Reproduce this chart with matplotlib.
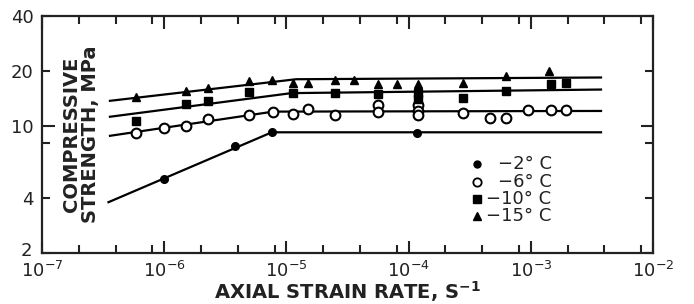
import matplotlib.pyplot as plt
from matplotlib.ticker import FixedLocator, FixedFormatter, LogFormatterMathtext, NullFormatter
from matplotlib.transforms import ScaledTranslation

# -2 C (filled circles)
rate_m2 = [1.0e-6, 3.8e-6, 7.6e-6, 1.17e-4]
val_m2 = [5.1, 7.7, 9.2, 9.1]

# -6 C (open circles)
rate_m6 = [5.9e-7, 1.0e-6, 1.5e-6, 2.3e-6, 4.9e-6, 7.8e-6, 1.13e-5, 1.5e-5, 2.5e-5,
           5.6e-5, 5.6e-5, 1.19e-4, 1.19e-4, 1.19e-4, 2.8e-4, 4.6e-4, 6.3e-4,
           9.5e-4, 1.46e-3, 1.94e-3]
val_m6 = [9.1, 9.7, 10.0, 10.9, 11.5, 11.95, 11.6, 12.3, 11.4,
          13.0, 11.9, 13.0, 12.1, 11.4, 11.75, 11.0, 11.0,
          12.2, 12.2, 12.2]

# -10 C (filled squares)
rate_m10 = [5.9e-7, 1.5e-6, 2.3e-6, 4.9e-6, 1.13e-5, 2.5e-5, 5.6e-5, 1.19e-4, 1.19e-4,
            2.8e-4, 6.3e-4, 1.46e-3, 1.94e-3]
val_m10 = [10.6, 13.2, 13.7, 15.3, 15.2, 15.2, 14.9, 15.1, 14.1,
           14.2, 15.6, 16.9, 17.1]

# -15 C (filled triangles)
rate_m15 = [5.9e-7, 1.5e-6, 2.3e-6, 4.9e-6, 7.6e-6, 1.13e-5, 1.5e-5, 2.5e-5, 3.6e-5,
            5.6e-5, 8.0e-5, 1.19e-4, 2.8e-4, 6.3e-4, 1.4e-3]
val_m15 = [14.4, 15.5, 16.1, 17.6, 17.9, 17.1, 17.2, 17.9, 17.9,
           16.9, 16.9, 16.9, 17.2, 18.8, 20.0]

# fitted lines
fit_rate_m2 = [3.5e-7, 7.6e-6, 3.75e-3]
fit_val_m2 = [3.8, 9.2, 9.2]
fit_rate_m6 = [3.6e-7, 7.8e-6, 3.75e-3]
fit_val_m6 = [8.8, 11.95, 12.05]
fit_rate_m10 = [3.6e-7, 1.1e-5, 3.75e-3]
fit_val_m10 = [11.2, 15.1, 15.8]
fit_rate_m15 = [3.6e-7, 1.2e-5, 3.75e-3]
fit_val_m15 = [13.7, 18.0, 18.4]

legend_labels = ["\u22122\u00b0 C", "\u22126\u00b0 C", "\u221210\u00b0 C", "\u221215\u00b0 C"]

fig = plt.figure(figsize=(6.94, 3.04), dpi=100)
ax = fig.add_axes([0.0605, 0.168, 0.8805, 0.779])

lw = 1.6
for r, v in [(fit_rate_m2, fit_val_m2), (fit_rate_m6, fit_val_m6),
             (fit_rate_m10, fit_val_m10), (fit_rate_m15, fit_val_m15)]:
    ax.plot(r, v, color="black", linewidth=lw, zorder=2)

ax.plot(rate_m2, val_m2, "o", color="black", markersize=5.5, zorder=3)
ax.plot(rate_m6, val_m6, "o", markerfacecolor="white", markeredgecolor="black",
        markeredgewidth=1.5, markersize=7, zorder=3)
ax.plot(rate_m10, val_m10, "s", color="black", markersize=6, zorder=3)
ax.plot(rate_m15, val_m15, "^", color="black", markersize=6, zorder=3)

ax.set_xscale("log")
ax.set_yscale("log")
ax.set_xlim(1e-7, 1e-2)
ax.set_ylim(2, 40)

# x ticks: decades long, 2/4/8 short
ax.xaxis.set_major_locator(FixedLocator([1e-7, 1e-6, 1e-5, 1e-4, 1e-3, 1e-2]))
ax.xaxis.set_major_formatter(LogFormatterMathtext())
minors = [m * 10.0 ** e for e in range(-7, -2) for m in (2, 4, 8)]
ax.xaxis.set_minor_locator(FixedLocator(minors))
ax.xaxis.set_minor_formatter(NullFormatter())

# y ticks: 10 long, others short
ax.yaxis.set_major_locator(FixedLocator([10]))
ax.yaxis.set_major_formatter(FixedFormatter(["10"]))
ax.yaxis.set_minor_locator(FixedLocator([2, 4, 8, 20, 40]))
ax.yaxis.set_minor_formatter(FixedFormatter(["2", "4", "", "20", "40"]))

ax.tick_params(which="both", direction="in", top=True, right=True,
               width=1.5, labelsize=13, color="#222222", labelcolor="#222222")
ax.tick_params(which="major", length=9)
ax.tick_params(which="minor", length=5.5)
ax.tick_params(axis="x", which="both", pad=5.5)
ax.tick_params(axis="y", which="both", pad=6)

# nudge the "2" label up so it clears the 10^-7 label
tick2 = ax.yaxis.get_minor_ticks(5)[0]
tick2.label1.set_transform(tick2.label1.get_transform()
                           + ScaledTranslation(-1 / 72, 3 / 72, fig.dpi_scale_trans))

for s in ax.spines.values():
    s.set_linewidth(1.6)
    s.set_color("#222222")

ax.set_xlabel("AXIAL STRAIN RATE, S$^{\\mathbf{-1}}$", fontsize=14, fontweight="bold",
              labelpad=-1, color="#222222")
ax.text(0.064, 0.5, "COMPRESSIVE\nSTRENGTH, MPa", transform=ax.transAxes,
        rotation=90, ha="center", va="center", multialignment="center",
        fontsize=14, fontweight="bold", linespacing=1.05, color="#222222")

# legend drawn by hand
leg_marks = [dict(marker="o", color="black", markersize=5),
             dict(marker="o", markerfacecolor="white", markeredgecolor="black",
                  markeredgewidth=1.3, markersize=6),
             dict(marker="s", color="black", markersize=5.5),
             dict(marker="^", color="black", markersize=5.5)]
leg_y = [0.375, 0.30, 0.228, 0.155]
for kw, y, lab in zip(leg_marks, leg_y, legend_labels):
    ax.plot([0.712], [y], transform=ax.transAxes, linestyle="none", clip_on=False, **kw)
    ax.text(0.834, y, lab, transform=ax.transAxes, ha="right", va="center",
            fontsize=13, color="#222222")

fig.savefig("out.png", dpi=100)
